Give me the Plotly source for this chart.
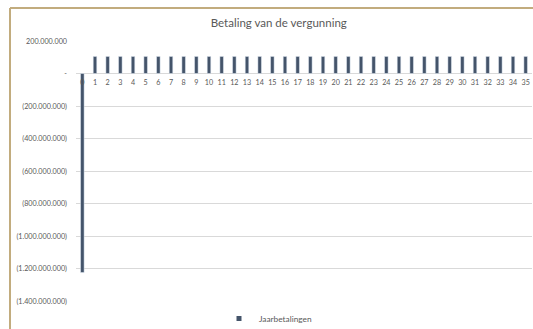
import plotly.graph_objects as go

years = list(range(0, 36))
payments = [-1225000000] + [105000000] * 35
series_name = "Jaarbetalingen"
title_text = "Betaling van de vergunning"
y_tick_values = [200000000, 0, -200000000, -400000000, -600000000, -800000000,
                 -1000000000, -1200000000, -1400000000]
y_tick_labels = ["200.000.000", "-", "(200.000.000)", "(400.000.000)", "(600.000.000)",
                 "(800.000.000)", "(1.000.000.000)", "(1.200.000.000)", "(1.400.000.000)"]

bar_color = "#44546A"
text_color = "#595959"
grid_color = "#D9D9D9"
border_color = "#C2AC7E"
font_family = "Lato, 'Open Sans', sans-serif"

fig = go.Figure()
fig.add_trace(go.Bar(
    x=years, y=payments, marker_color=bar_color, showlegend=False, name=series_name,
))
fig.add_trace(go.Scatter(
    x=[None], y=[None], mode="markers", name=series_name,
    marker=dict(symbol="square", size=5, color=bar_color),
))

W, H = 533, 329
ml, mr, mt, mb = 76, 1, 41, 28
pw = W - ml - mr
ph = H - mt - mb

def px_to_paper_x(px):
    return (px - ml) / pw

def px_to_paper_y(py):
    return (H - mb - py) / ph

fig.update_layout(
    width=W, height=H,
    margin=dict(l=ml, r=mr, t=mt, b=mb, pad=0, autoexpand=False),
    paper_bgcolor="white", plot_bgcolor="white",
    bargap=0.72,
    font=dict(family=font_family, color=text_color, size=7),
    title=dict(text=title_text, x=0.523, xref="container", xanchor="center",
               y=1 - 23 / H, yref="container", yanchor="middle",
               font=dict(size=11.5, color=text_color, family=font_family)),
    showlegend=True,
    legend=dict(orientation="h", x=px_to_paper_x(219), xanchor="left",
                y=px_to_paper_y(318.5), yanchor="middle",
                font=dict(size=8.3, color=text_color), itemwidth=30,
                bgcolor="rgba(0,0,0,0)"),
    xaxis=dict(type="category", range=[-0.5, 35.5], showgrid=False,
               anchor="free", position=0.875, showline=False, ticks="",
               tickfont=dict(size=7.2, color=text_color), ticklabelstandoff=3,
               zeroline=False, automargin=False),
    yaxis=dict(range=[-1400000000, 200000000], tickvals=y_tick_values,
               ticktext=y_tick_labels, showgrid=True, gridcolor=grid_color,
               gridwidth=1, zeroline=True, zerolinecolor=grid_color, zerolinewidth=1,
               ticks="", tickfont=dict(size=7.2, color=text_color), ticklabelstandoff=8,
               showline=False, automargin=False),
    shapes=[
        dict(type="line", xref="paper", yref="paper",
             x0=px_to_paper_x(10), x1=px_to_paper_x(533),
             y0=px_to_paper_y(8), y1=px_to_paper_y(8),
             line=dict(color=border_color, width=2)),
        dict(type="line", xref="paper", yref="paper",
             x0=px_to_paper_x(10), x1=px_to_paper_x(10),
             y0=px_to_paper_y(8), y1=px_to_paper_y(329),
             line=dict(color=border_color, width=2)),
    ],
)

fig.write_html("out.html", config={"displayModeBar": False},
               post_script="document.body.style.margin='0';document.body.style.overflow='hidden';")
